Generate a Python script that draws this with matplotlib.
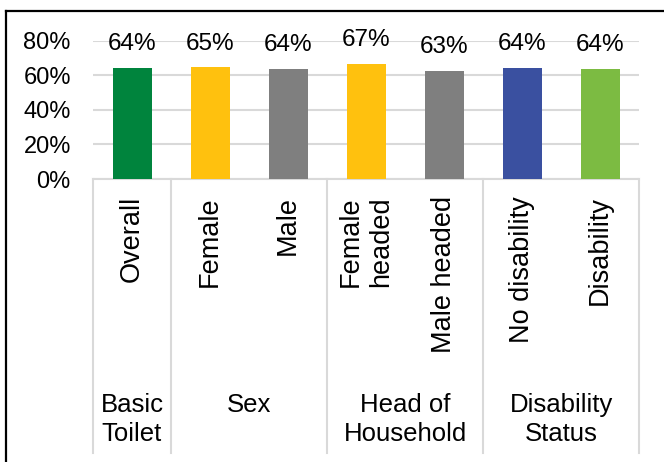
import matplotlib
matplotlib.use("Agg")
import matplotlib.pyplot as plt
import matplotlib.transforms as mtransforms
from matplotlib.lines import Line2D

plt.rcParams['font.family'] = ['Liberation Sans', 'DejaVu Sans']

categories = ["Overall", "Female", "Male", "Female\nheaded", "Male headed", "No disability", "Disability"]
values = [64.2, 64.6, 63.7, 66.6, 62.6, 64.3, 63.8]
bar_colors = ["#00843D", "#FFC10E", "#7F7F7F", "#FFC10E", "#7F7F7F", "#3A50A0", "#7CBB42"]
groups = ["Basic\nToilet", "Sex", "Head of\nHousehold", "Disability\nStatus"]
group_spans = [(0, 0), (1, 2), (3, 4), (5, 6)]
yticks = [0, 20, 40, 60, 80]

W, H = 664, 462
fig = plt.figure(figsize=(W / 100, H / 100), dpi=100)

x0, x1 = 93, 639
ytop, ybot = 40.7, 179
ax = fig.add_axes([x0 / W, 1 - ybot / H, (x1 - x0) / W, (ybot - ytop) / H])

xs = list(range(len(categories)))
ax.bar(xs, values, width=0.5, color=bar_colors, zorder=3)
ax.set_xlim(-0.5, len(categories) - 0.5)
ax.set_ylim(0, 80)
ax.set_yticks(yticks)
ax.set_yticklabels([f"{t}%" for t in yticks], fontsize=17)
ax.tick_params(axis='y', length=0, pad=16)
ax.tick_params(axis='x', length=0, labelbottom=False)
ax.grid(axis='y', color='#D9D9D9', linewidth=1.5, zorder=0)
for s in ['top', 'right', 'left']:
    ax.spines[s].set_visible(False)
ax.spines['bottom'].set_color('#D9D9D9')
ax.spines['bottom'].set_linewidth(1.5)

for x, v in zip(xs, values):
    ax.annotate(f"{v:.0f}%", (x, v), xytext=(0, 17), textcoords='offset points',
                ha='center', va='center', fontsize=17.5, clip_on=False)

# multi-level category axis
trans = mtransforms.blended_transform_factory(ax.transData, fig.transFigure)
sep_top = 1 - ybot / H
sep_bot = 1 - 453 / H
seps = [-0.5] + [b + 0.5 for (a, b) in group_spans]
for sx in seps:
    fig.add_artist(Line2D([sx, sx], [sep_top, sep_bot], transform=trans,
                          color='#D9D9D9', linewidth=1.5))

for x, c in zip(xs, categories):
    fig.text(x, 1 - 196 / H, c, transform=trans, rotation=90, ha='center', va='top',
             fontsize=19.5, multialignment='left', linespacing=1.2)

for g, (a, b) in zip(groups, group_spans):
    fig.text((a + b) / 2, 1 - 393 / H, g, transform=trans, ha='center', va='top',
             fontsize=18.5, multialignment='center', linespacing=1.25)

# outer border
bx, by = 6 / W, 1 - 11 / H
fig.add_artist(Line2D([bx, bx], [0, by], transform=fig.transFigure, color='black', linewidth=1.6))
fig.add_artist(Line2D([bx, 1.0], [by, by], transform=fig.transFigure, color='black', linewidth=1.6))

fig.savefig("out.png", dpi=100)
